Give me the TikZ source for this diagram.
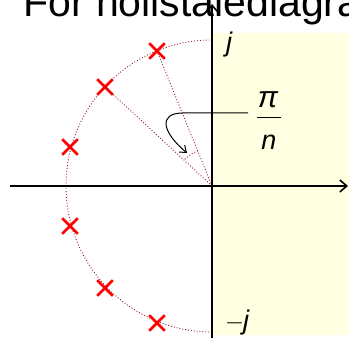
\documentclass[tikz,border=0pt]{standalone}
\usepackage{fontspec}
\setmainfont{Liberation Sans}
\usetikzlibrary{shapes.misc,arrows.meta}
\definecolor{paleyellow}{RGB}{255,255,225}
\definecolor{dotred}{RGB}{150,20,40}
\tikzset{
  pole/.style={cross out,draw=red,line width=2.6pt,minimum size=13pt,inner sep=0pt},
  guide/.style={dotred,dotted,line width=0.9pt},
  axis/.style={line width=1.8pt,-{Straight Barb[length=7pt,width=12pt,line width=1.6pt]}},
  lbl/.style={font=\fontsize{27}{29}\selectfont\itshape,inner sep=0pt}
}
\begin{document}
\begin{tikzpicture}[x=1pt,y=-1pt]
\useasboundingbox (0,0) rectangle (349,342);
\clip (0,0) rectangle (349,342);
\fill[paleyellow] (213,33) rectangle (349,335);
\node[anchor=base west,inner sep=0pt,font=\fontsize{41}{44}\selectfont] (title) at (23,17) {For holistalediagram};
\coordinate (O) at (212,186);
\coordinate (L) at (10,186);
\coordinate (R) at (348,186);
\coordinate (B) at (212,338);
\coordinate (T) at (212,4);
\draw[guide] (O) ++(90:146) arc[start angle=90,end angle=270,radius=146];
\node[pole] (p1) at (157,51) {};
\node[pole] (p2) at (105,87) {};
\node[pole] (p3) at (70,147) {};
\node[pole] (p4) at (70,226) {};
\node[pole] (p5) at (105,288) {};
\node[pole] (p6) at (157,323) {};
\draw[guide] (O) -- (p1.center);
\draw[guide] (O) -- (p2.center);
\draw[guide] (O) ++(248:38) arc[start angle=248,end angle=223,radius=38];
\draw[axis] (L) -- (R);
\draw[axis] (B) -- (T);
\node[lbl] (j) at (229,45) {j};
\node[lbl] (mj) at (237,323) {$-$\kern-1pt j};
\node[lbl,font=\fontsize{30}{32}\selectfont\itshape] (pi) at (268,100) {π};
\node[lbl] (n) at (269,142) {n};
\coordinate (barL) at (257,118);
\coordinate (barR) at (281,118);
\draw[line width=1pt] (barL) -- (barR);
\coordinate (lead) at (248,113);
\coordinate (tip) at (187,153);
\draw[line width=1pt,-{Straight Barb[length=6pt,width=9pt]}] (lead) -- (183,113) .. controls (158,113) and (162,132) .. (tip);
\end{tikzpicture}
\end{document}
